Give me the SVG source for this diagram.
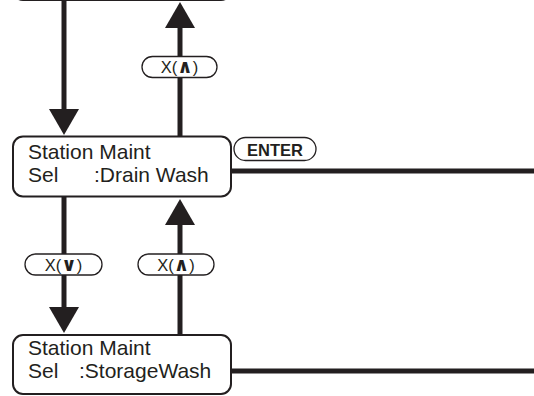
<svg xmlns="http://www.w3.org/2000/svg" width="534" height="396" viewBox="0 0 534 396">
<style>
.box{fill:#fff;stroke:#231f20;stroke-width:2}
.pill{fill:#fff;stroke:#231f20;stroke-width:1.3}
.t{font-family:"Liberation Sans",Arial,sans-serif;font-size:21px;fill:#231f20}
.k{font-family:"Liberation Sans","DejaVu Sans",Arial,sans-serif;font-size:16.5px;fill:#231f20;text-anchor:middle}
.b{font-weight:bold}
.s{font-weight:bold;font-size:19px}
.c{stroke:#231f20;stroke-width:5;fill:none}
</style>
<defs>
<marker id="ah" viewBox="0 0 26 30" markerWidth="26" markerHeight="30" refX="0" refY="15" orient="auto" markerUnits="userSpaceOnUse">
<path d="M0,0 L26,15 L0,30 Z" fill="#231f20"/>
</marker>
</defs>
<g id="node-top">
<rect class="box" x="13" y="-60" width="218" height="60" rx="10"/>
</g>
<g id="connectors">
<path class="c" d="M64,0 V109" marker-end="url(#ah)"/>
<path class="c" d="M180,136 V28" marker-end="url(#ah)"/>
<path class="c" d="M64,197 V307" marker-end="url(#ah)"/>
<path class="c" d="M180,335 V225" marker-end="url(#ah)"/>
<path class="c" d="M231,171 H534"/>
<path class="c" d="M231,371 H534"/>
</g>
<g id="label-up-1">
<rect class="pill" x="142" y="56.5" width="75" height="21" rx="10.5"/>
<text class="k" x="179.5" y="73">X(<tspan class="s">∧</tspan>)</text>
</g>
<g id="node-drain">
<rect class="box" x="13" y="136.5" width="218" height="60" rx="10"/>
<text class="t" x="28" y="158.5">Station Maint</text>
<text class="t" x="28" y="182">Sel</text>
<text class="t" x="94" y="182">:Drain Wash</text>
</g>
<g id="label-enter">
<rect class="pill" x="234" y="137.5" width="82" height="23" rx="11.5"/>
<text class="k b" x="275" y="155.5">ENTER</text>
</g>
<g id="label-down">
<rect class="pill" x="25" y="254" width="77" height="21" rx="10.5"/>
<text class="k" x="63.5" y="270.5">X(<tspan class="s">∨</tspan>)</text>
</g>
<g id="label-up-2">
<rect class="pill" x="138" y="254" width="76" height="21" rx="10.5"/>
<text class="k" x="176" y="270.5">X(<tspan class="s">∧</tspan>)</text>
</g>
<g id="node-storage">
<rect class="box" x="13" y="335" width="218" height="59" rx="10"/>
<text class="t" x="28" y="354.5">Station Maint</text>
<text class="t" x="28" y="378">Sel</text>
<text class="t" x="79" y="378">:StorageWash</text>
</g>
</svg>
